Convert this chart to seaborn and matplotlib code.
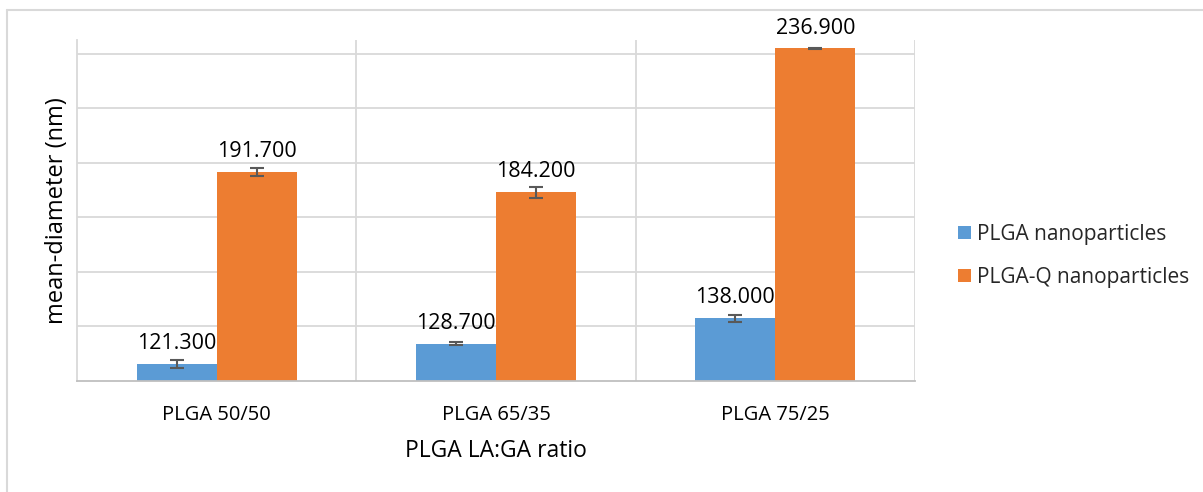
import matplotlib
matplotlib.use("Agg")
import matplotlib.pyplot as plt
from matplotlib.lines import Line2D
from matplotlib.patches import Patch
import seaborn as sns
import pandas as pd

# Mean particle diameter by PLGA lactide:glycolide ratio
ratios = ["PLGA 50/50", "PLGA 65/35", "PLGA 75/25"]
series = ["PLGA nanoparticles", "PLGA-Q nanoparticles"]
plga_mean = [121.3, 128.7, 138.0]
plgaq_mean = [191.7, 184.2, 236.9]
plga_err = [1.4, 0.6, 1.2]
plgaq_err = [1.5, 2.0, 0.3]
colors = ["#5B9BD5", "#ED7D31"]

df = pd.DataFrame({
    "ratio": ratios * 2,
    "series": [series[0]] * 3 + [series[1]] * 3,
    "mean": plga_mean + plgaq_mean,
    "err": plga_err + plgaq_err,
})

sns.set_theme(style="white")
plt.rcParams["font.family"] = ["Open Sans", "DejaVu Sans"]

fig = plt.figure(figsize=(12.03, 4.92), dpi=100)
ax = fig.add_axes([0.064, 0.2256, 0.6966, 0.6931])

ymin, ymax = 115, 240
sns.barplot(data=df, x="ratio", y="mean", hue="series", order=ratios,
            hue_order=series, palette=colors, width=0.573, errorbar=None,
            saturation=1, ax=ax, legend=False, linewidth=0, edgecolor="none")

ax.set_ylim(ymin, ymax)
ax.set_xlim(-0.5, 2.5)

# Gridlines: horizontal every 20 nm, vertical at category boundaries
for y in range(ymin + 20, ymax, 20):
    ax.axhline(y, color="#D9D9D9", lw=1.3, zorder=0)
for x in [0.5, 1.5, 2.5]:
    ax.axvline(x, color="#D9D9D9", lw=1.3, zorder=0)
ax.set_axisbelow(True)

for s in ["top", "right"]:
    ax.spines[s].set_visible(False)
ax.spines["left"].set_color("#D9D9D9")
ax.spines["left"].set_linewidth(1.3)
ax.spines["bottom"].set_color("#BFBFBF")
ax.spines["bottom"].set_linewidth(1.3)

ax.set_yticks([])
ax.tick_params(axis="x", length=0, labelsize=14.5, colors="#000000", pad=17)

# Error bars and value labels at each bar's centre
bars = [p for p in ax.patches if p.get_height() > 0]
for p in bars:
    cx = p.get_x() + p.get_width() / 2
    h = p.get_height()
    row = df[(df["mean"] - h).abs() < 1e-6].iloc[0]
    ax.errorbar(cx, row["mean"], yerr=row["err"], fmt="none",
                ecolor="#595959", elinewidth=1.5, capsize=5, capthick=1.5,
                zorder=5)
    ax.text(cx, row["mean"] + 3.6, f"{row['mean']:.3f}", ha="center",
            va="bottom", fontsize=15.5, color="#000000")

ax.set_xlabel("PLGA LA:GA ratio", fontsize=16.5, labelpad=10, color="#000000")
ax.set_ylabel("mean-diameter (nm)", fontsize=17, labelpad=6, color="#000000")

handles = [Patch(facecolor=c, edgecolor="none") for c in colors]
fig.legend(handles, series, loc="center left", bbox_to_anchor=(0.781, 0.48),
           frameon=False, fontsize=15, handlelength=0.6, handleheight=0.6,
           handletextpad=0.3, labelspacing=1.05)

# Chart area frame
fig.add_artist(Line2D([7 / 1203, 1.0], [1 - 10 / 492, 1 - 10 / 492],
                      transform=fig.transFigure, color="#D9D9D9", lw=1.5))
fig.add_artist(Line2D([7 / 1203, 7 / 1203], [0, 1 - 10 / 492],
                      transform=fig.transFigure, color="#D9D9D9", lw=1.5))

fig.savefig("out.png", dpi=100)
